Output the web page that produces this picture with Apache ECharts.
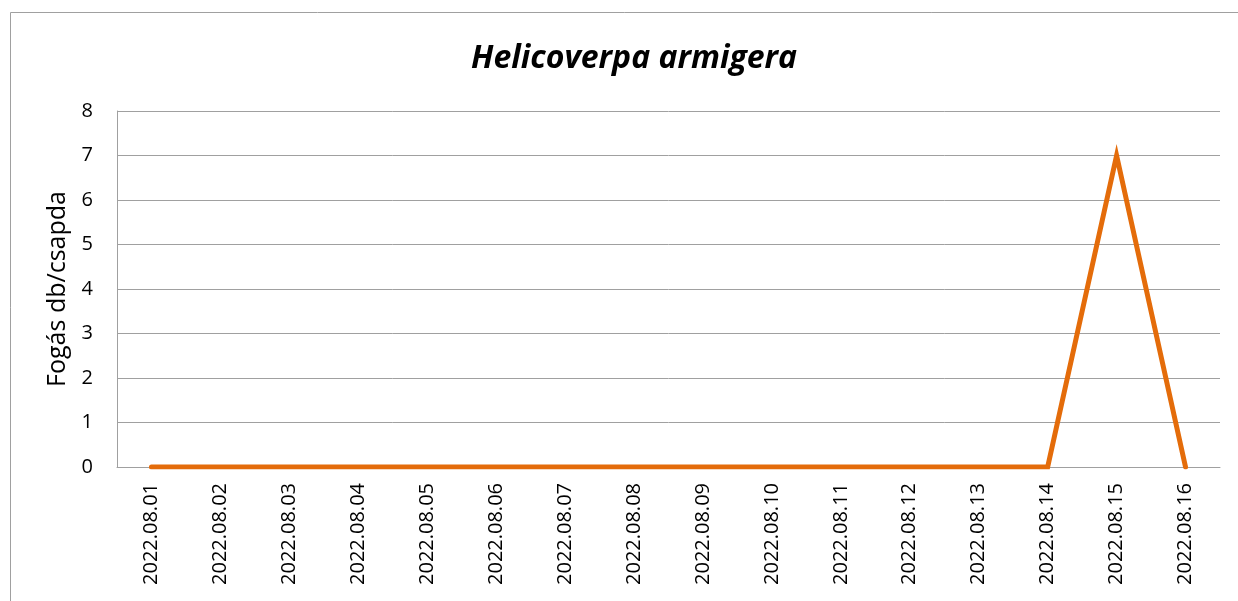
<!DOCTYPE html>
<html><head><meta charset="utf-8">
<script src="https://cdn.jsdelivr.net/npm/echarts@6/dist/echarts.min.js"></script>
<style>html,body{margin:0;padding:0;background:#fff}#c{width:1238px;height:601px}</style>
</head><body><div id="c"></div>
<script>
const titleText = 'Helicoverpa armigera';
const yAxisName = 'Fogás db/csapda';
const categories = ['2022.08.01','2022.08.02','2022.08.03','2022.08.04','2022.08.05','2022.08.06','2022.08.07','2022.08.08','2022.08.09','2022.08.10','2022.08.11','2022.08.12','2022.08.13','2022.08.14','2022.08.15','2022.08.16'];
const values = [0,0,0,0,0,0,0,0,0,0,0,0,0,0,7,0];

const FONT = '"Open Sans", "Noto Sans", sans-serif';
const chart = echarts.init(document.getElementById('c'), null, {renderer:'canvas'});
chart.setOption({
  animation:false,
  backgroundColor:'#fff',
  graphic:[{type:'rect',shape:{x:10.5,y:12.5,width:1240,height:620},style:{fill:'none',stroke:'#a0a0a0',lineWidth:1},silent:true}],
  title:{text:titleText,left:629,top:38,textAlign:'center',textStyle:{fontFamily:FONT,fontSize:32,fontWeight:'bold',fontStyle:'italic',color:'#000'}},
  grid:{left:117,right:18,top:111,bottom:134,containLabel:false},
  xAxis:{type:'category',data:categories,boundaryGap:true,
    axisLine:{show:true,lineStyle:{color:'#a0a0a0',width:1}},
    axisTick:{show:false},
    axisLabel:{rotate:90,margin:16,fontSize:20,color:'#000',fontFamily:FONT,interval:0}},
  yAxis:{type:'value',min:0,max:8,interval:1,
    name:yAxisName,nameLocation:'middle',nameGap:39,nameRotate:90,
    nameTextStyle:{fontSize:25,color:'#000',fontFamily:FONT},
    axisLine:{show:true,lineStyle:{color:'#a0a0a0',width:1}},
    axisTick:{show:false},
    splitLine:{show:true,lineStyle:{color:'#a0a0a0',width:1}},
    axisLabel:{fontSize:20,color:'#000',margin:24,fontFamily:FONT}},
  series:[{type:'line',data:values,symbol:'none',lineStyle:{color:'#E46C0A',width:5,cap:'round',join:'miter'},itemStyle:{color:'#E46C0A'}}]
});
</script></body></html>
